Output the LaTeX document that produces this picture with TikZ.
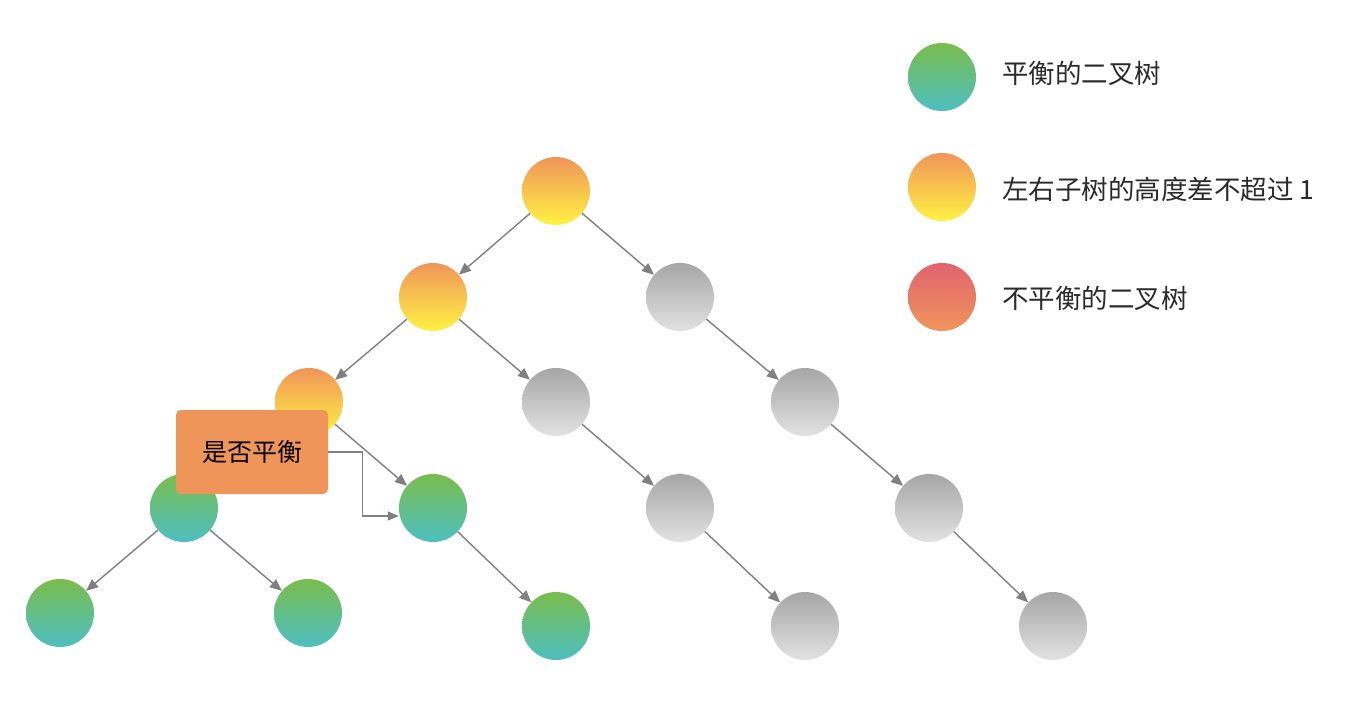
\documentclass[tikz,border=0pt]{standalone}
\usepackage{fontspec}
\newfontfamily\cjk{Noto Sans CJK SC}
\usetikzlibrary{arrows.meta,calc}
\definecolor{gtop}{HTML}{7ABD4C}
\definecolor{gbot}{HTML}{4DBFC2}
\definecolor{otop}{HTML}{F0955A}
\definecolor{obot}{HTML}{FFF242}
\definecolor{ytop}{HTML}{A6A6A6}
\definecolor{ybot}{HTML}{E2E2E2}
\definecolor{rtop}{HTML}{E0636F}
\definecolor{rbot}{HTML}{F0955A}
\definecolor{edgec}{HTML}{808080}
\definecolor{boxc}{HTML}{F0955A}
\definecolor{txt}{HTML}{2B2B2B}
\tikzset{
  tn/.style={circle, minimum size=68pt, inner sep=0pt},
  green/.style={tn, top color=gtop, bottom color=gbot},
  orange/.style={tn, top color=otop, bottom color=obot},
  grey/.style={tn, top color=ytop, bottom color=ybot},
  red/.style={tn, top color=rtop, bottom color=rbot},
  edge/.style={draw=edgec, line width=1.4pt, -{Triangle[length=12pt,width=10pt]}},
  legtxt/.style={anchor=west, font=\cjk\fontsize{26.5}{30}\selectfont, text=txt, inner sep=0pt},
  qbox/.style={fill=boxc, rounded corners=5pt, minimum width=152pt, minimum height=84pt, font=\cjk\fontsize{25}{29}\selectfont, text=black}
}
\begin{document}
\begin{tikzpicture}[x=1pt,y=-1pt]
\fill[white] (0,0) rectangle (1360,720);
\useasboundingbox (0,0) rectangle (1360,720);
% tree nodes
\node[orange] (A) at (556,191) {};
\node[orange] (B) at (433,297) {};
\node[grey]   (C) at (680,297) {};
\node[orange] (D) at (309,402) {};
\node[grey]   (E) at (556,402) {};
\node[grey]   (F) at (805,402) {};
\node[green]  (G) at (184,508) {};
\node[green]  (H) at (433,508) {};
\node[grey]   (I) at (680,508) {};
\node[grey]   (J) at (929,508) {};
\node[green]  (K) at (60,613) {};
\node[green]  (L) at (308,613) {};
\node[green]  (M) at (556,626) {};
\node[grey]   (N) at (805,626) {};
\node[grey]   (O) at (1053,626) {};
% edges
\draw[edge] (A) -- (B);
\draw[edge] (A) -- (C);
\draw[edge] (B) -- (D);
\draw[edge] (B) -- (E);
\draw[edge] (C) -- (F);
\draw[edge] (D) -- (G);
\draw[edge] (D) -- (H);
\draw[edge] (E) -- (I);
\draw[edge] (F) -- (J);
\draw[edge] (G) -- (K);
\draw[edge] (G) -- (L);
\draw[edge] (H) -- (M);
\draw[edge] (I) -- (N);
\draw[edge] (J) -- (O);
% question box
\node[qbox] (Q) at (252,452) {是否平衡};
\draw[draw=edgec, line width=1.2pt, -{Triangle[length=11pt,width=9pt]}]
  (Q.east) -- ++(34,0) |- ([yshift=-8pt]H.west);
% legend
\node[green]  (L1) at (942,77) {};
\node[orange] (L2) at (942,187) {};
\node[red]    (L3) at (942,297) {};
\node[legtxt] (T1) at (1002,73) {平衡的二叉树};
\node[legtxt] (T2) at (1002,189) {左右子树的高度差不超过 1};
\node[legtxt] (T3) at (1002,298) {不平衡的二叉树};
\end{tikzpicture}
\end{document}
